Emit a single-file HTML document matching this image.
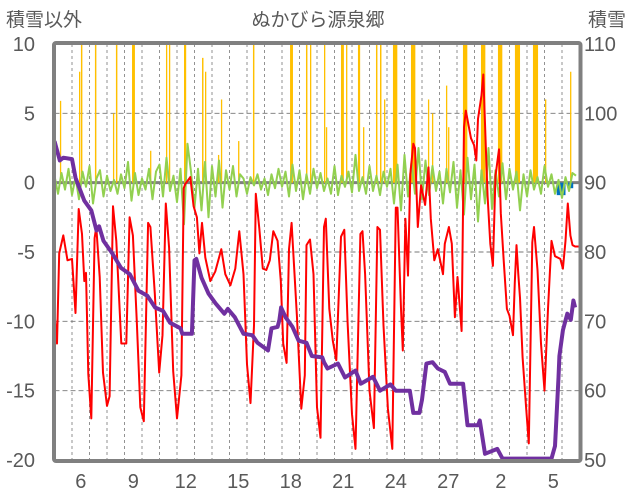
<!DOCTYPE html>
<html><head><meta charset="utf-8"><style>
html,body{margin:0;padding:0;background:#fff;}
svg{display:block;font-family:"Liberation Sans","Noto Sans CJK JP",sans-serif;}
</style></head><body>
<svg id="chart" width="636" height="501" viewBox="0 0 636 501" xmlns="http://www.w3.org/2000/svg">
<text x="6" y="26" font-size="19" fill="#595959">積雪以外</text>
<text x="318" y="26" font-size="19" fill="#595959" text-anchor="middle">ぬかびら源泉郷</text>
<text x="588" y="26" font-size="19" fill="#595959">積雪</text>
<g id="grid"></g>
<g id="bars"></g>
<g id="lines"></g>
<g id="axes"></g>
</svg>
<script>
// days from left edge (day 5 00:00)
const redDays=[0,0.14,0.27,0.5,0.74,1.0,1.2,1.38,1.57,1.7,1.8,1.93,2.1,2.29,2.39,2.58,2.77,3.0,3.15,3.34,3.53,3.82,4.1,4.29,4.48,4.71,4.9,5.1,5.35,5.48,5.73,5.98,6.17,6.36,6.55,6.78,7.0,7.25,7.38,7.47,7.76,7.95,8.14,8.28,8.43,8.62,8.9,9.19,9.53,9.76,10.05,10.33,10.56,10.8,11.0,11.2,11.4,11.5,11.7,11.9,12.1,12.3,12.5,12.75,12.93,13.07,13.26,13.4,13.55,13.85,14.1,14.3,14.4,14.6,14.8,15.0,15.2,15.4,15.5,15.7,15.9,16.1,16.37,16.56,16.75,17.0,17.2,17.48,17.6,17.75,18.0,18.25,18.45,18.6,18.8,19.05,19.3,19.5,19.6,19.8,19.9,20.05,20.2,20.33,20.5,20.6,20.76,20.95,21.18,21.37,21.5,21.7,21.9,22.2,22.3,22.54,22.7,22.88,23.03,23.26,23.4,23.5,23.8,23.98,24.1,24.2,24.4,24.5,24.65,24.75,24.9,25.05,25.2,25.4,25.5,25.66,25.85,26.0,26.2,26.3,26.4,26.5,26.6,26.75,26.95,27.1,27.3,27.4,27.6,27.8,28.0,28.2,28.4,28.6,28.9,29.05,29.2,29.33,29.48,29.6,29.75,30];
const redTemp=[-9.4,-11.6,-5.1,-3.8,-5.6,-5.5,-9.4,-1.9,-3.7,-7.1,-6.5,-13.8,-17.0,-4.0,-3.2,-6.8,-13.7,-16.1,-15.4,-1.7,-4.2,-11.6,-11.6,-2.5,-3.8,-10.2,-16.2,-17.2,-2.9,-3.2,-8.0,-13.7,-11.0,-1.5,-4.7,-13.6,-17.0,-13.9,-0.4,-0.1,0.4,-1.7,-2.5,-5.1,-2.9,-5.4,-7.1,-6.4,-4.8,-6.6,-7.4,-6.2,-3.5,-6.6,-13.1,-15.9,-10.3,-0.8,-3.3,-6.2,-6.3,-5.6,-3.5,-4.2,-7.1,-11.6,-13.0,-4.8,-2.9,-9.6,-16.3,-13.9,-4.5,-4.1,-6.6,-16.2,-18.4,-3.2,-2.6,-9.1,-11.4,-12.8,-3.9,-3.4,-10.1,-16.7,-19.2,-3.7,-3.5,-6.6,-15.0,-17.7,-3.2,-3.4,-10.3,-16.3,-19.2,-1.8,-1.8,-9.1,-12.1,-2.6,-6.7,0.6,2.8,2.5,-3.2,-0.2,-1.6,1.1,-2.6,-5.6,-4.8,-6.6,-4.4,-3.2,-4.4,-9.7,-6.8,-10.7,4.0,5.2,3.2,2.7,1.6,4.6,6.3,7.8,2.4,-1.0,-4.4,-6.0,0.5,2.4,-2.2,-5.5,-9.1,-9.6,-11.0,-7.2,-4.5,-6.6,-8.3,-12.6,-16.2,-18.8,-4.3,-3.2,-6.3,-11.6,-15.0,-9.1,-4.2,-5.3,-5.5,-6.2,-4.2,-1.5,-3.8,-4.5,-4.6,-4.6];
const snowDays=[0,0.3,0.5,1.0,1.2,1.7,2.1,2.4,2.55,2.8,3.3,3.8,4.3,4.8,5.3,5.75,6.2,6.6,7.2,7.3,7.85,8.0,8.1,8.4,8.8,9.2,9.7,9.9,10.3,10.8,11.3,11.6,12.1,12.2,12.4,12.75,12.85,12.95,13.2,13.6,13.95,14.4,14.7,15.3,15.4,15.6,16.2,16.6,17.2,17.5,18.2,18.6,19.2,19.5,20.3,20.5,20.85,21.0,21.25,21.6,21.9,22.3,22.6,23.35,23.6,24.2,24.3,24.6,25.3,25.6,28.4,28.6,28.8,28.85,29.05,29.3,29.5,29.65,29.75];
const snowDepth=[96,93.2,93.6,93.4,90.7,87.4,86.0,83.1,83.7,81.6,79.8,77.7,76.8,74.4,73.7,72.0,71.5,69.8,69.0,68.2,68.2,78.8,79.0,76.3,74.0,72.6,71.1,71.8,70.6,68.2,68.0,66.9,66.0,65.8,69.0,69.2,70.2,72.0,70.6,69.2,67.2,66.9,65.0,64.8,64.1,63.2,63.9,61.9,62.9,61.0,62.0,60.0,60.9,60.0,60.0,56.8,56.8,58.7,63.9,64.1,63.2,62.7,61.0,61.0,55.0,55.0,55.7,50.9,51.6,50.2,50.2,52.0,61.9,65.0,68.7,71.1,70.2,73.0,72.0];
// other values every 0.2 day
const otherVals=[0.5,-0.8,0.7,-0.5,1.0,-0.9,0.4,-1.2,0.8,-0.3,1.2,-1.5,0.3,0.9,-1.0,0.5,-0.6,0.2,-0.8,0.6,-0.4,1.5,-1.3,0.7,-0.9,0.3,-0.5,1.0,-1.2,0.8,1.3,-1.0,1.8,-0.6,0.5,-1.4,1.0,-3.0,2.8,0.8,-1.8,1.0,-2.0,1.5,-2.5,1.2,-1.0,1.6,-1.8,0.9,-0.5,1.2,-1.0,0.6,0.3,-0.8,0.4,-0.2,0.6,-0.5,0.3,-0.9,0.6,-0.4,1.0,-0.3,0.8,-1.0,1.3,-0.6,0.9,-1.2,0.6,-0.8,1.0,-0.4,0.7,-0.6,0.3,-0.8,1.2,-0.9,0.5,-0.3,0.8,-0.7,2.0,-0.6,0.4,-0.8,1.2,-0.6,0.5,-0.9,0.8,-0.3,1.0,-1.5,1.3,-2.0,2.0,-1.0,1.5,-0.8,2.5,-1.2,1.6,-0.9,1.2,-0.6,0.8,-1.5,1.0,-0.7,1.5,-1.8,0.9,-2.3,1.8,-1.2,1.3,-2.8,0.9,-1.5,2.5,-1.9,0.9,-1.0,1.4,-1.2,1.0,-0.5,0.8,-2.0,0.6,-1.0,0.9,-0.5,0.4,-0.8,1.2,-0.3,0.6,-0.8,0.2,-1.1,0.4,-0.6,0.7,0.5];
const precipDays=[0.31,1.40,1.51,2.31,3.34,3.51,4.43,5.46,6.37,6.54,7.4,8.43,8.6,9.34,9.51,10.49,11.34,13.46,14.37,14.6,15.4,15.51,16.37,16.66,17.34,17.63,18.37,18.6,18.83,19.34,20.37,21.34,21.57,22.37,22.49,23.34,24.37,25.34,26.31,27.34,28.03,29.46];
const precipVals=[5.9,8,12,12,5,12,12,2.3,12,12,12,9,8,2,6,3,12,12,12,12,12,4,12,12,12,4,12,12,6,12,12,6,5,7,4,12,12,12,12,12,6,8];
const precipHours=[1,1,2,2,1,2,4,1,1,1,3,2,1,1,1,1,2,4,2,1,1,1,4,1,3,1,2,2,1,6,6,1,1,1,1,6,6,6,7,7,1,1];
const negDays=[28.7,29.35];
const negVals=[-0.9,-0.4];
const negHours=[12,7];
const leftTicks=[10,5,0,-5,-10,-15,-20];
const rightTicks=[110,100,90,80,70,60,50];
const dayLabels=["6","9","12","15","18","21","24","27","2","5"];
const dayLabelPos=[1,4,7,10,13,16,19,22,25,28];

const X0=54.5,X1=579.5,DAYS=30,YT=44,YB=460,LMIN=-20,LMAX=10,RMIN=50,RMAX=110;
const xs=d=>X0+(X1-X0)*d/DAYS;
const yl=v=>YB-(YB-YT)*(Math.max(LMIN,Math.min(LMAX,v))-LMIN)/(LMAX-LMIN);
const yr=v=>YB-(YB-YT)*(v-RMIN)/(RMAX-RMIN);
const NS="http://www.w3.org/2000/svg";
function mk(tag,parent,attrs){const e=document.createElementNS(NS,tag);for(const k in attrs)e.setAttribute(k,attrs[k]);parent.appendChild(e);return e;}
const grid=document.getElementById('grid'),bars=document.getElementById('bars'),lines=document.getElementById('lines'),axes=document.getElementById('axes');
for(let d=1;d<DAYS;d++){const l=mk('line',grid,{x1:xs(d),x2:xs(d),y1:YT,y2:YB,stroke:'#777','stroke-width':0.8,'stroke-dasharray':'3,3'});

}
leftTicks.forEach(t=>{if(t!==0&&t!==10&&t!==-20){const l=mk('line',grid,{x1:X0,x2:X1,y1:yl(t),y2:yl(t),stroke:'#777','stroke-width':0.9,'stroke-dasharray':'5,3'});

}});
const zl=mk('line',grid,{x1:X0,x2:X1,y1:yl(0),y2:yl(0),stroke:'#808080','stroke-width':3});


precipDays.forEach((d,i)=>{const w=Math.max(1.3,(X1-X0)/DAYS*precipHours[i]/24);const r=mk('rect',bars,{x:xs(d),y:yl(precipVals[i]),width:w,height:yl(0)-yl(precipVals[i]),fill:'#FFC000'});

});
negDays.forEach((d,i)=>{const w=(X1-X0)/DAYS*negHours[i]/24;const r=mk('rect',bars,{x:xs(d),y:yl(0),width:w,height:yl(negVals[i])-yl(0),fill:'#0070C0'});

});
const gp=otherVals.map((v,i)=>xs(i*0.2).toFixed(1)+','+yl(v).toFixed(1)).join(' ');
const g=mk('polyline',lines,{points:gp,fill:'none',stroke:'#92D050','stroke-width':2,'stroke-linejoin':'round'});


const rp=redDays.map((d,i)=>xs(d).toFixed(1)+','+yl(redTemp[i]).toFixed(1)).join(' ');
const r=mk('polyline',lines,{points:rp,fill:'none',stroke:'#FF0000','stroke-width':2,'stroke-linejoin':'round'});


const sp=snowDays.map((d,i)=>xs(d).toFixed(1)+','+yr(snowDepth[i]).toFixed(1)).join(' ');
const s=mk('polyline',lines,{points:sp,fill:'none',stroke:'#7030A0','stroke-width':4,'stroke-linejoin':'round'});


const fr=mk('rect',axes,{x:X0-0.5,y:YT-1,width:X1-X0+1.5,height:YB-YT+2,fill:'none',stroke:'#808080','stroke-width':4,rx:2});


leftTicks.forEach(t=>{const e=mk('text',axes,{x:35,y:yl(t)+7,'font-size':20,fill:'#595959','text-anchor':'end'});e.textContent=t;

});
rightTicks.forEach(t=>{const e=mk('text',axes,{x:584,y:yr(t)+7,'font-size':20,fill:'#595959'});e.textContent=t;

});
dayLabels.forEach((t,i)=>{const e=mk('text',axes,{x:xs(dayLabelPos[i]+0.5),y:488,'font-size':20,fill:'#595959','text-anchor':'middle'});e.textContent=t;

});
</script>
</body></html>
